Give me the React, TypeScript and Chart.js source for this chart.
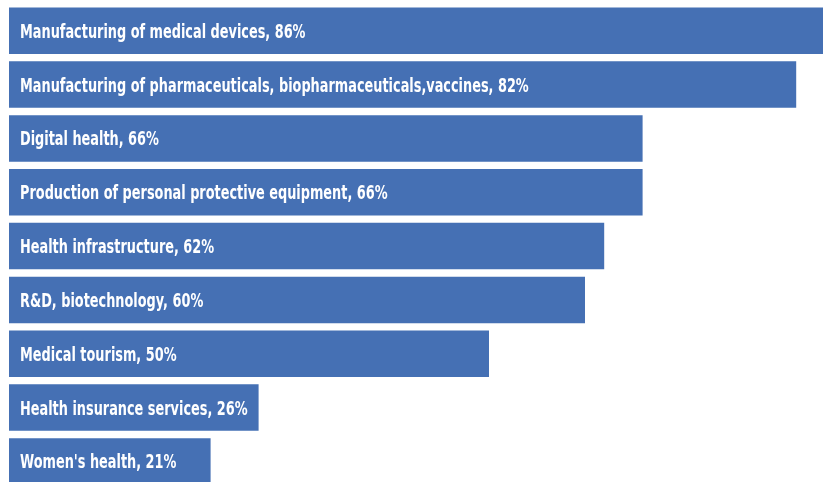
import React, { useEffect, useRef } from "react";
import { Chart, registerables } from "chart.js";

Chart.register(...registerables);

const categories = [
  "Manufacturing of medical devices",
  "Manufacturing of pharmaceuticals, biopharmaceuticals,vaccines",
  "Digital health",
  "Production of personal protective equipment",
  "Health infrastructure",
  "R&D, biotechnology",
  "Medical tourism",
  "Health insurance services",
  "Women's health",
];
const values = [86, 82, 66, 66, 62, 60, 50, 26, 21];

const BAR_COLOR = "#4570B4";
const FONT = "bold 19px 'Liberation Sans Narrow', 'Arial Narrow', 'DejaVu Sans Condensed', sans-serif";
const TEXT_SCALE_X = 0.753;

const labelPlugin = {
  id: "insideLabels",
  afterDatasetsDraw(chart: any) {
    const ctx = chart.ctx;
    const meta = chart.getDatasetMeta(0);
    ctx.save();
    ctx.font = FONT;
    ctx.fillStyle = "#ffffff";
    ctx.textBaseline = "alphabetic";
    ctx.textAlign = "left";
    meta.data.forEach((bar: any, i: number) => {
      const text = `${categories[i]}, ${values[i]}%`;
      const x = chart.chartArea.left + 11;
      const y = bar.y + 7;
      ctx.save();
      ctx.translate(x, y);
      ctx.scale(TEXT_SCALE_X, 1);
      ctx.fillText(text, 0, 0);
      ctx.restore();
    });
    ctx.restore();
  },
};

export default function App() {
  const ref = useRef<HTMLCanvasElement | null>(null);
  useEffect(() => {
    document.body.style.margin = "0";
    if (!ref.current) return;
    const W = 840;
    const pxPerUnit = 9.6;
    const left = 9;
    const chart = new Chart(ref.current, {
      type: "bar",
      data: {
        labels: categories,
        datasets: [
          {
            data: values,
            backgroundColor: BAR_COLOR,
            borderWidth: 0,
            categoryPercentage: 1,
            barPercentage: 0.864,
          },
        ],
      },
      options: {
        indexAxis: "y",
        animation: false,
        responsive: false,
        maintainAspectRatio: false,
        layout: { padding: { left: left, top: 3.8, right: 0, bottom: 1.7 } },
        plugins: {
          legend: { display: false },
          tooltip: { enabled: false },
        },
        scales: {
          x: { display: false, min: 0, max: (W - left) / pxPerUnit },
          y: { display: false },
        },
      },
      plugins: [labelPlugin],
    });
    return () => chart.destroy();
  }, []);
  return (
    <div style={{ width: 823, height: 482, overflow: "hidden", position: "relative", background: "#fff" }}>
      <canvas ref={ref} width={840} height={490} style={{ width: 840, height: 490, display: "block" }} />
    </div>
  );
}
